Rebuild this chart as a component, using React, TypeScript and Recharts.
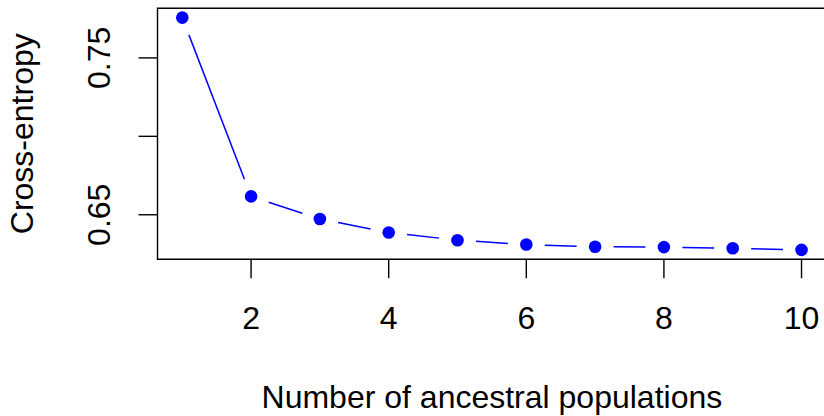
import { LineChart, Line, XAxis, YAxis, ReferenceArea } from "recharts";

// K values tested and the cross-entropy score for each
const populations = [1, 2, 3, 4, 5, 6, 7, 8, 9, 10];
const crossEntropy = [0.7757, 0.6617, 0.6473, 0.6387, 0.6338, 0.631, 0.6296, 0.6294, 0.6287, 0.6276];

const xTicks = [2, 4, 6, 8, 10];
const yTicks = [0.65, 0.7, 0.75];
const yTickLabels = ["0.65", "", "0.75"];

const xTitle = "Number of ancestral populations";
const yTitle = "Cross-entropy";

const BLUE = "#0000ff";
const FONT = '"Liberation Sans", Arial, sans-serif';
const FONT_SIZE = 32;
const GAP = 18.5; // empty space left around each point, like type = "b"

// base-graphics style 4% padding around the data range
const pad = (lo: number, hi: number): [number, number] => {
  const d = (hi - lo) * 0.04;
  return [lo - d, hi + d];
};
const xDomain = pad(Math.min(...populations), Math.max(...populations));
const yDomain = pad(Math.min(...crossEntropy), Math.max(...crossEntropy));

const data = populations.map((k, i) => ({ k, ce: crossEntropy[i] }));

// point + the broken segment leading to the next point
function PointAndSegment(props: any) {
  const { cx, cy, index, points } = props;
  const next = points?.[index + 1];
  let seg = null;
  if (next) {
    const dx = next.x - cx;
    const dy = next.y - cy;
    const len = Math.hypot(dx, dy);
    if (len > 2 * GAP) {
      const ux = dx / len;
      const uy = dy / len;
      seg = (
        <line
          x1={cx + ux * GAP}
          y1={cy + uy * GAP}
          x2={next.x - ux * GAP}
          y2={next.y - uy * GAP}
          stroke={BLUE}
          strokeWidth={1.5}
        />
      );
    }
  }
  return (
    <g key={`pt-${index}`}>
      {seg}
      <circle cx={cx} cy={cy} r={6.3} fill={BLUE} />
    </g>
  );
}

function YTick({ x, y, payload }: any) {
  const i = yTicks.findIndex((t) => Math.abs(t - payload.value) < 1e-9);
  const label = i >= 0 ? yTickLabels[i] : "";
  if (!label) return null;
  return (
    <text
      x={x}
      y={y}
      transform={`rotate(-90, ${x}, ${y})`}
      textAnchor="middle"
      fontSize={FONT_SIZE}
      fill="#000"
    >
      {label}
    </text>
  );
}

function YTitle({ viewBox }: any) {
  const cx = viewBox.x + 33;
  const cy = viewBox.y + viewBox.height / 2;
  return (
    <text
      x={cx}
      y={cy}
      transform={`rotate(-90, ${cx}, ${cy})`}
      textAnchor="middle"
      fontSize={FONT_SIZE}
      fill="#000"
    >
      {yTitle}
    </text>
  );
}

export default function App() {
  return (
    <div
      style={{
        position: "absolute",
        left: 0,
        top: 0,
        width: 824,
        height: 416,
        overflow: "hidden",
        background: "#fff",
        fontFamily: FONT,
      }}
    >
      <LineChart
        width={830}
        height={416}
        data={data}
        margin={{ top: 8.3, right: 3.7, left: 0, bottom: 0 }}
      >
        <XAxis
          type="number"
          dataKey="k"
          domain={xDomain}
          ticks={xTicks}
          height={156.8}
          axisLine={false}
          stroke="#000"
          tickLine={{ stroke: "#000", strokeWidth: 1.4 }}
          tickSize={19}
          tickMargin={28}
          tick={{ fill: "#000", fontSize: FONT_SIZE }}
          label={{
            value: xTitle,
            position: "insideBottom",
            offset: 8,
            fill: "#000",
            fontSize: FONT_SIZE,
          }}
        />
        <YAxis
          type="number"
          domain={yDomain}
          ticks={yTicks}
          width={157.5}
          axisLine={false}
          stroke="#000"
          tickLine={{ stroke: "#000", strokeWidth: 1.4 }}
          tickSize={19}
          tickMargin={28}
          tick={<YTick />}
          label={(p: any) => <YTitle {...p} />}
        />
        <ReferenceArea
          x1={xDomain[0]}
          x2={xDomain[1]}
          y1={yDomain[0]}
          y2={yDomain[1]}
          fill="none"
          stroke="#000"
          strokeWidth={1.4}
          ifOverflow="visible"
        />
        <Line
          dataKey="ce"
          stroke="none"
          dot={PointAndSegment}
          activeDot={false}
          legendType="none"
          isAnimationActive={false}
        />
      </LineChart>
    </div>
  );
}
